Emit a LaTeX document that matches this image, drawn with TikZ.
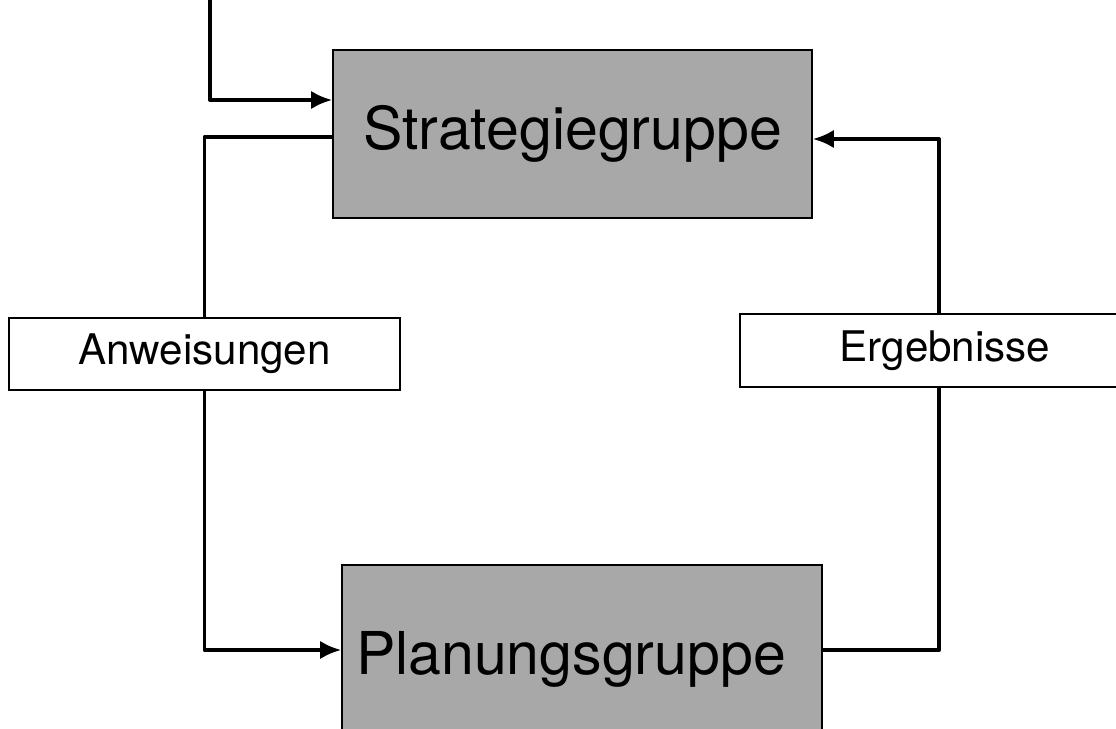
\documentclass[tikz,border=0pt]{standalone}
\usepackage{fontspec}
\setmainfont{TeX Gyre Heros}
\usetikzlibrary{arrows.meta}

\begin{document}
\begin{tikzpicture}[
   group/.style={draw,line width=1pt,fill=black!34,font=\fontsize{42}{48}\selectfont},
   note/.style={draw,line width=1pt,fill=white,font=\fontsize{30}{34}\selectfont},
   flow/.style={line width=2.8pt,line join=round},
   head/.style={-{Latex[length=15pt,width=13pt]}}
  ]
   \useasboundingbox (0,0) rectangle (27.9,18.2);
   \clip (0,0) rectangle (27.9,18.2);
   \node [group,minimum width=11.975cm,minimum height=4.2cm] (strat) at (14.3125,14.85) {Strategiegruppe};
   \node [group,minimum height=4.7cm,inner xsep=0.35cm,text width=11.3cm,align=left] (plan) at (14.55,1.725) {Planungsgruppe};
   \node [note,minimum width=9.775cm,minimum height=1.8cm] (anw) at (5.1125,9.35) {Anweisungen};
   \node [note,minimum width=10.25cm,minimum height=1.825cm] (erg) at (23.625,9.4375) {Ergebnisse};
   \coordinate (feed) at (5.25,18.6);
   % loop: strategy -> instructions -> planning -> results -> strategy
   \draw [flow,head] (feed) |- ([yshift=0.85cm]strat.west);
   \draw [flow] ([yshift=-0.075cm]strat.west) -| (anw.north);
   \draw [flow,head] (anw.south) |- ([yshift=0.225cm]plan.west);
   \draw [flow] ([yshift=0.225cm]plan.east) -| ([xshift=-0.15cm]erg.south);
   \draw [flow,head] ([xshift=-0.15cm]erg.north) |- ([yshift=-0.125cm]strat.east);
  \end{tikzpicture}
\end{document}
